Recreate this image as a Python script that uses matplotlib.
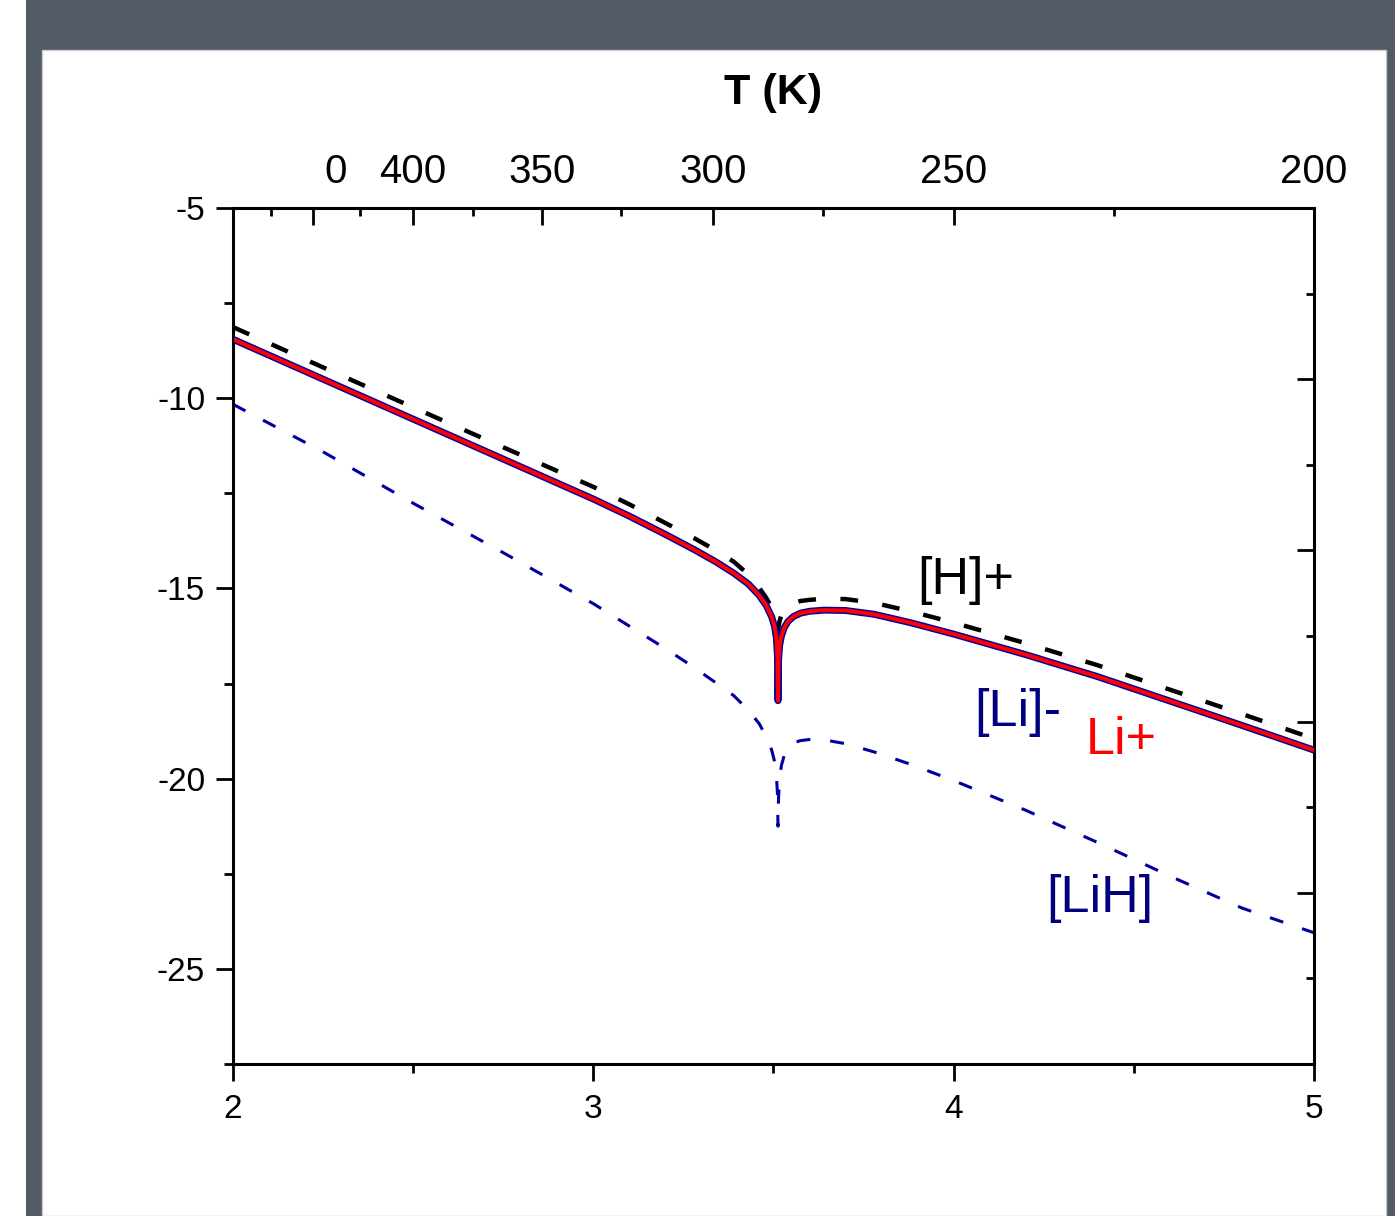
import matplotlib.pyplot as plt
from matplotlib.patches import Rectangle

plt.rcParams['font.family'] = ['Liberation Sans', 'DejaVu Sans']
plt.rcParams['axes.unicode_minus'] = False

# 1000/T axis values
x = [2.0, 2.25, 2.5, 2.75, 3.0, 3.1, 3.2, 3.28, 3.34, 3.39, 3.43, 3.46, 3.48,
     3.495, 3.503, 3.508, 3.511, 3.5125, 3.514, 3.517, 3.522, 3.53, 3.54,
     3.555, 3.575, 3.6, 3.64, 3.7, 3.78, 3.88, 4.0, 4.2, 4.4, 4.6, 4.8, 5.0]

h_plus = [-8.13, -9.19, -10.24, -11.29, -12.33, -12.79, -13.28, -13.68, -14.0,
          -14.3, -14.63, -14.98, -15.25, -15.5, -15.7, -15.88, -16.0, -16.1,
          -16.0, -15.85, -15.7, -15.55, -15.45, -15.38, -15.33, -15.3, -15.27,
          -15.28, -15.38, -15.6, -15.9, -16.44, -17.02, -17.66, -18.3, -18.95]

li_plus = [-8.45, -9.5, -10.55, -11.6, -12.65, -13.1, -13.58, -13.98, -14.3,
           -14.6, -14.88, -15.18, -15.45, -15.75, -16.0, -16.3, -16.8, -17.95,
           -16.9, -16.5, -16.25, -16.03, -15.87, -15.74, -15.65, -15.6, -15.57,
           -15.58, -15.68, -15.9, -16.2, -16.74, -17.32, -17.96, -18.6, -19.25]

li_minus = list(li_plus)  # lies exactly under Li+ in the figure

lih = [-10.16, -11.41, -12.76, -14.06, -15.4, -15.99, -16.58, -17.08, -17.48,
       -17.82, -18.2, -18.55, -18.9, -19.25, -19.55, -19.9, -20.4, -21.25,
       -20.5, -20.0, -19.65, -19.38, -19.2, -19.06, -19.0, -18.97, -18.98,
       -19.08, -19.3, -19.62, -20.05, -20.83, -21.68, -22.56, -23.4, -24.05]

top_major_T = [500, 450, 400, 350, 300, 250, 200]
top_major_labels = ['', '', '400', '350', '300', '250', '200']
top_minor_T = [475, 425, 375, 325, 275, 225]

NAVY = '#0000a0'

fig = plt.figure(figsize=(13.95, 12.16), dpi=100)
fig.patches.append(Rectangle((26 / 1395, 0), 1 - 26 / 1395, 1, transform=fig.transFigure,
                             facecolor='#525b66', edgecolor='none', zorder=-10))
fig.patches.append(Rectangle((42 / 1395, 0), (1386 - 42) / 1395, 1 - 50 / 1216,
                             transform=fig.transFigure, facecolor='white',
                             edgecolor='#c5cad3', lw=1, zorder=-9))

ax = fig.add_axes([233 / 1395, 152 / 1216, 1081 / 1395, 856 / 1216])
ax.set_facecolor('none')

ax.plot(x, li_minus, color=NAVY, lw=5.0, solid_capstyle='round', solid_joinstyle='round', zorder=3)
ax.plot(x, li_plus, color='red', lw=2.9, solid_capstyle='round', solid_joinstyle='round', zorder=4)
ax.plot(x, h_plus, color='black', lw=3.2, ls=(0, (4, 5.5)), zorder=2)
ax.plot(x, lih, color=NAVY, lw=2.2, ls=(0, (4.6, 6.5)), zorder=2)

ax.text(4.034, -14.79, '[H]+', fontsize=37.5, color='black', ha='center', va='center')
ax.text(4.179, -18.26, '[Li]-', fontsize=37.5, color='#000080', ha='center', va='center')
ax.text(4.464, -19.0, 'Li+', fontsize=37.5, color='red', ha='center', va='center')
ax.text(4.406, -23.16, '[LiH]', fontsize=37.5, color='#000080', ha='center', va='center')

ax.set_xlim(2, 5)
ax.set_ylim(-27.5, -5)
ax.set_xticks([2, 3, 4, 5])
ax.set_xticks([2.5, 3.5, 4.5], minor=True)
ax.set_yticks([-25, -20, -15, -10, -5])
ax.set_yticks([-27.5, -22.5, -17.5, -12.5, -7.5], minor=True)
ax.tick_params(which='major', direction='out', length=12, width=2, labelsize=24, pad=9.5)
ax.tick_params(which='minor', direction='out', length=6.5, width=2)
ax.tick_params(axis='y', which='major', pad=8)
for s in ax.spines.values():
    s.set_linewidth(2.2)

# top axis in temperature
axt = ax.twiny()
axt.set_xlim(2, 5)
axt.set_xticks([1000 / t for t in top_major_T])
axt.set_xticklabels(top_major_labels)
axt.set_xticks([1000 / t for t in top_minor_T], minor=True)
axt.tick_params(which='major', direction='in', length=12, width=2, labelsize=29, pad=12)
axt.tick_params(which='minor', direction='in', length=6, width=2)
axt.annotate('0', xy=(1000 / 450, 1), xycoords=('data', 'axes fraction'),
             xytext=(16.5, 18), textcoords='offset points', fontsize=29,
             ha='center', va='baseline')

# right axis ticks only
axr = ax.twinx()
axr.set_ylim(-27.5, -5)
axr.set_yticks([-27.5, -23, -18.5, -14, -9.5, -5])
axr.set_yticks([-25.25, -20.75, -16.25, -11.75, -7.25], minor=True)
axr.set_yticklabels([])
axr.tick_params(which='major', direction='in', length=12, width=2)
axr.tick_params(which='minor', direction='in', length=6, width=2)

fig.text(773.5 / 1395, 1 - 93 / 1216, 'T (K)', fontsize=31, fontweight='bold',
         ha='center', va='center')

fig.savefig('out.png', dpi=100)
